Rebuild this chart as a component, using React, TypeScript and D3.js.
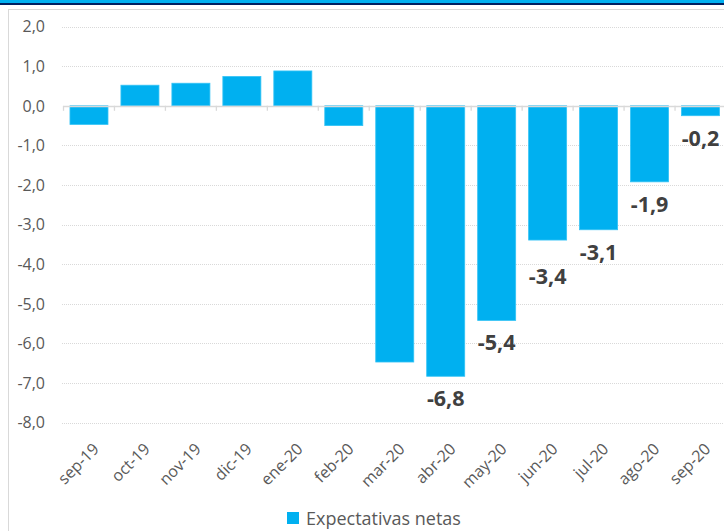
import React from "react";
import * as d3 from "d3";

const categories = ["sep-19","oct-19","nov-19","dic-19","ene-20","feb-20","mar-20","abr-20","may-20","jun-20","jul-20","ago-20","sep-20"];
const values = [-0.47, 0.52, 0.57, 0.74, 0.88, -0.5, -6.47, -6.83, -5.42, -3.39, -3.13, -1.92, -0.25];
const labelTexts = ["", "", "", "", "", "", "", "-6,8", "-5,4", "-3,4", "-3,1", "-1,9", "-0,2"];
const yTicks = [2, 1, 0, -1, -2, -3, -4, -5, -6, -7, -8];
const seriesName = "Expectativas netas";

const W = 724, H = 531;
const BAR = "#00b0f0";
const TEXT = "#595959";
const GRID = "#d9d9d9";
const FONT = "'Open Sans', 'Liberation Sans', sans-serif";

export default function App() {
  const x = d3.scaleBand<string>().domain(categories).range([63.5, 726]).paddingInner(0.254).paddingOuter(0.127);
  const y = d3.scaleLinear().domain([-8, 2]).range([422.6, 26.6]);
  const step = x.step();
  const x0 = 63.5;
  const fmt = (v: number) => d3.format(".1f")(v).replace(".", ",").replace("−", "-");

  return (
    <svg width={W} height={H} style={{ position: "absolute", left: 0, top: 0, background: "#fff" }} fontFamily={FONT}>
      <rect x={0} y={0} width={W} height={3} fill="#00b0f0" />
      <rect x={0} y={3} width={W} height={2} fill="#002060" />
      <rect x={8.5} y={9.5} width={W + 10} height={H} fill="none" stroke="#d9d9d9" strokeWidth={1} />
      {yTicks.map((t) => (
        <g key={t}>
          {t !== 0 && (
            <line x1={62} x2={W} y1={Math.round(y(t)) + 0.5} y2={Math.round(y(t)) + 0.5} stroke={GRID} strokeWidth={1} strokeDasharray="1,1" />
          )}
          <text x={45} y={y(t)} dy="0.36em" textAnchor="end" fontSize={16} fill={TEXT}>{fmt(t)}</text>
        </g>
      ))}
      {categories.map((c, i) => {
        const v = values[i];
        const top = y(Math.max(0, v));
        const h = Math.abs(y(v) - y(0));
        return (
          <rect key={c} x={x(c)} y={top} width={x.bandwidth()} height={h} fill={BAR} stroke="#33c3f5" strokeWidth={0.8} />
        );
      })}
      <line x1={x0} x2={W} y1={Math.round(y(0)) + 0.5} y2={Math.round(y(0)) + 0.5} stroke={GRID} strokeWidth={1.3} />
      {d3.range(categories.length + 1).map((i) => (
        <line key={i} x1={x0 + i * step} x2={x0 + i * step} y1={y(0)} y2={y(0) + 5} stroke={GRID} strokeWidth={1.3} />
      ))}
      {categories.map((c, i) => {
        const t = labelTexts[i];
        if (!t) return null;
        const extra = c === "jun-20" ? 14 : 0;
        return (
          <text key={c} x={(x(c) as number) + x.bandwidth() / 2} y={y(values[i]) + 30 + extra} textAnchor="middle" fontSize={21.5} fontWeight="bold" fill="#404040">{t}</text>
        );
      })}
      {categories.map((c) => {
        const cx = (x(c) as number) + x.bandwidth() / 2;
        return (
          <text key={c} transform={`translate(${cx + 11},${450}) rotate(-45)`} textAnchor="end" fontSize={16} fill={TEXT}>{c}</text>
        );
      })}
      <rect x={287} y={512} width={12} height={12} fill={BAR} />
      <text x={306} y={524.5} fontSize={18} fill={TEXT}>{seriesName}</text>
    </svg>
  );
}
